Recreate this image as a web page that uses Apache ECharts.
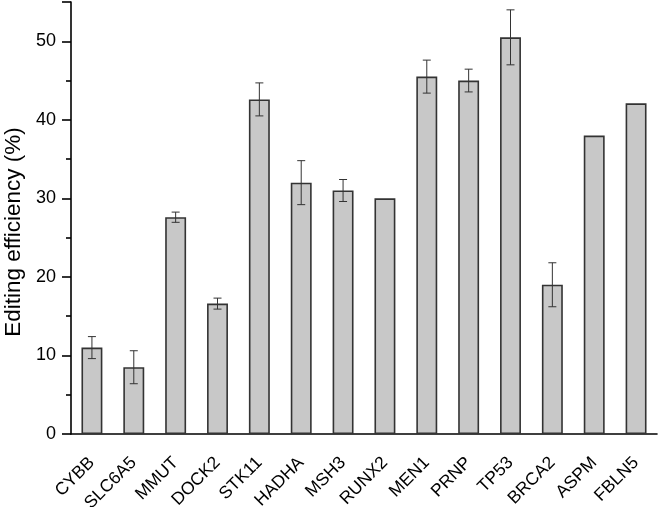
<!DOCTYPE html>
<html>
<head>
<meta charset="utf-8">
<script src="https://cdn.jsdelivr.net/npm/echarts@6/dist/echarts.min.js"></script>
<style>
html,body{margin:0;padding:0;background:#fff;}
#c{width:660px;height:507px;}
</style>
</head>
<body>
<div id="c"></div>
<script>
const categories = ['CYBB','SLC6A5','MMUT','DOCK2','STK11','HADHA','MSH3','RUNX2','MEN1','PRNP','TP53','BRCA2','ASPM','FBLN5'];
const values = [11.0, 8.5, 27.6, 16.6, 42.6, 32.0, 31.0, 30.0, 45.5, 45.0, 50.5, 19.0, 38.0, 42.1];
const errors = [1.4, 2.1, 0.65, 0.7, 2.1, 2.8, 1.4, null, 2.1, 1.45, 3.5, 2.8, null, null];
const yTicks = [0, 10, 20, 30, 40, 50];

const errData = [];
categories.forEach((c, i) => {
  if (errors[i] != null) errData.push([i, values[i] - errors[i], values[i] + errors[i]]);
});

const chart = echarts.init(document.getElementById('c'), null, {renderer: 'canvas'});
const FONT = '"Liberation Sans", Arial, sans-serif';
chart.setOption({
  animation: false,
  backgroundColor: '#fff',
  grid: {left: 71, right: 3, top: 2, bottom: 73, containLabel: false, outerBoundsMode: 'none'},
  xAxis: {
    type: 'category',
    data: categories,
    axisLine: {lineStyle: {color: '#000', width: 1.6}},
    axisTick: {show: false},
    axisLabel: {rotate: 45, fontSize: 17.5, color: '#000', fontFamily: FONT, margin: 26, interval: 0}
  },
  yAxis: {
    type: 'value',
    min: 0, max: 55, interval: 10,
    name: 'Editing efficiency (%)',
    nameLocation: 'middle',
    nameGap: 46,
    nameTextStyle: {fontSize: 22.5, color: '#000', fontFamily: FONT, padding: [0, 28, 0, 0]},
    axisLine: {show: true, lineStyle: {color: '#000', width: 1.6}},
    axisTick: {show: true, length: 9, lineStyle: {color: '#000', width: 1.6}},
    minorTick: {show: true, splitNumber: 2, length: 5, lineStyle: {color: '#000', width: 1.6}},
    splitLine: {show: false},
    axisLabel: {
      fontSize: 18, color: '#000', fontFamily: FONT, margin: 15,
      formatter: v => (yTicks.indexOf(v) >= 0 ? String(v) : '')
    }
  },
  series: [
    {
      type: 'bar',
      data: values,
      barWidth: '50%',
      itemStyle: {color: '#c8c8c8', borderColor: '#333', borderWidth: 1.6}
    },
    {
      type: 'custom',
      data: errData,
      encode: {x: 0, y: [1, 2]},
      z: 5,
      renderItem: function (params, api) {
        const i = api.value(0);
        const lo = api.coord([i, api.value(1)]);
        const hi = api.coord([i, api.value(2)]);
        const hw = 4;
        const style = {stroke: '#333', lineWidth: 1};
        return {
          type: 'group',
          children: [
            {type: 'line', shape: {x1: hi[0], y1: hi[1], x2: lo[0], y2: lo[1]}, style: style},
            {type: 'line', shape: {x1: hi[0] - hw, y1: hi[1], x2: hi[0] + hw, y2: hi[1]}, style: style},
            {type: 'line', shape: {x1: lo[0] - hw, y1: lo[1], x2: lo[0] + hw, y2: lo[1]}, style: style}
          ]
        };
      }
    }
  ]
});
</script>
</body>
</html>
